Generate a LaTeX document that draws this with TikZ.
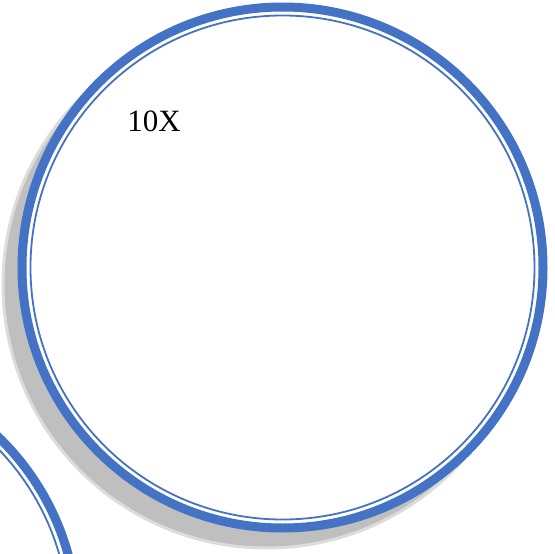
\documentclass[tikz,border=0pt]{standalone}
\usepackage{fontspec}
\setmainfont{Liberation Serif}
\definecolor{cRing}{HTML}{4472C4}
\definecolor{cShad}{HTML}{BFBFBF}
\tikzset{
  ring/.style={circle, draw=cRing, line width=9pt, fill=white, inner sep=0pt,
               minimum size=521pt},
  ringin/.style={draw=cRing, line width=1.8pt},
  shad/.style={circle, fill=cShad, draw=cShad!55, line width=3pt, inner sep=0pt,
               minimum size=527pt},
  lbl/.style={inner sep=0pt, font=\fontsize{31}{36}\selectfont},
}

\begin{document}
\begin{tikzpicture}[x=1pt, y=-1pt]
\useasboundingbox (0,0) rectangle (555,554);
% ---- lower left ring, cut by the frame
\node[ring] (lower) at (-183,624) {};
\draw[ringin] (lower.center) circle[radius=252pt];
% ---- main ring with its shadow
\node[shad] (bigsh) at (266.5,284.5) {};
\node[ring] (big) at (282.5,267.5) {};
\draw[ringin] (big.center) circle[radius=252pt];
\node[lbl] (tag) at (154,121) {10X};
\end{tikzpicture}
\end{document}
